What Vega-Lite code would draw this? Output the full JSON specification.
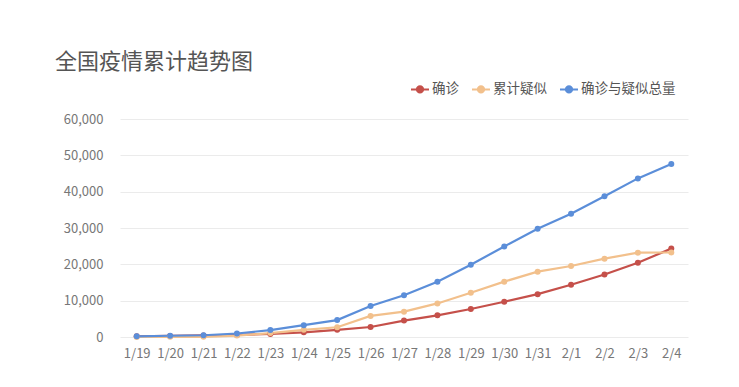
{
  "$schema": "https://vega.github.io/schema/vega-lite/v6.json",
  "width": 568,
  "height": 218,
  "autosize": {"type": "none"},
  "padding": {"left": 120, "top": 119, "right": 51, "bottom": 50},
  "background": "white",
  "title": {"text": "全国疫情累计趋势图", "anchor": "start", "frame": "group", "dx": -65, "dy": 54, "fontSize": 22, "font": "Noto Sans CJK SC", "color": "#555555", "fontWeight": "normal", "baseline": "alphabetic", "offset": 42},
  "config": {"view": {"stroke": null}, "font": "Noto Sans CJK SC"},
  "data": {"values": [
    {"d":"1/19","s":"确诊","v":198},{"d":"1/20","s":"确诊","v":291},{"d":"1/21","s":"确诊","v":440},{"d":"1/22","s":"确诊","v":571},{"d":"1/23","s":"确诊","v":830},{"d":"1/24","s":"确诊","v":1287},{"d":"1/25","s":"确诊","v":1975},{"d":"1/26","s":"确诊","v":2744},{"d":"1/27","s":"确诊","v":4515},{"d":"1/28","s":"确诊","v":5974},{"d":"1/29","s":"确诊","v":7711},{"d":"1/30","s":"确诊","v":9692},{"d":"1/31","s":"确诊","v":11791},{"d":"2/1","s":"确诊","v":14380},{"d":"2/2","s":"确诊","v":17205},{"d":"2/3","s":"确诊","v":20438},{"d":"2/4","s":"确诊","v":24324},
    {"d":"1/19","s":"累计疑似","v":0},{"d":"1/20","s":"累计疑似","v":54},{"d":"1/21","s":"累计疑似","v":37},{"d":"1/22","s":"累计疑似","v":393},{"d":"1/23","s":"累计疑似","v":1072},{"d":"1/24","s":"累计疑似","v":1965},{"d":"1/25","s":"累计疑似","v":2684},{"d":"1/26","s":"累计疑似","v":5794},{"d":"1/27","s":"累计疑似","v":6973},{"d":"1/28","s":"累计疑似","v":9239},{"d":"1/29","s":"累计疑似","v":12167},{"d":"1/30","s":"累计疑似","v":15238},{"d":"1/31","s":"累计疑似","v":17988},{"d":"2/1","s":"累计疑似","v":19544},{"d":"2/2","s":"累计疑似","v":21558},{"d":"2/3","s":"累计疑似","v":23214},{"d":"2/4","s":"累计疑似","v":23260},
    {"d":"1/19","s":"确诊与疑似总量","v":198},{"d":"1/20","s":"确诊与疑似总量","v":345},{"d":"1/21","s":"确诊与疑似总量","v":477},{"d":"1/22","s":"确诊与疑似总量","v":964},{"d":"1/23","s":"确诊与疑似总量","v":1902},{"d":"1/24","s":"确诊与疑似总量","v":3252},{"d":"1/25","s":"确诊与疑似总量","v":4659},{"d":"1/26","s":"确诊与疑似总量","v":8538},{"d":"1/27","s":"确诊与疑似总量","v":11488},{"d":"1/28","s":"确诊与疑似总量","v":15213},{"d":"1/29","s":"确诊与疑似总量","v":19878},{"d":"1/30","s":"确诊与疑似总量","v":24930},{"d":"1/31","s":"确诊与疑似总量","v":29779},{"d":"2/1","s":"确诊与疑似总量","v":33924},{"d":"2/2","s":"确诊与疑似总量","v":38763},{"d":"2/3","s":"确诊与疑似总量","v":43652},{"d":"2/4","s":"确诊与疑似总量","v":47584}
  ]},
  "mark": {"type": "line", "strokeWidth": 2.2, "point": {"filled": true, "size": 36}},
  "encoding": {
    "x": {"field": "d", "type": "ordinal", "sort": null, "scale": {"type": "point", "padding": 0.5},
      "axis": {"title": null, "labelAngle": 0, "domain": false, "ticks": false, "labelColor": "#777777", "labelFontSize": 13, "labelPadding": 10, "grid": false}},
    "y": {"field": "v", "type": "quantitative", "scale": {"domain": [0, 60000]},
      "axis": {"title": null, "values": [0,10000,20000,30000,40000,50000,60000], "format": ",.0f", "labelOverlap": false, "domain": false, "ticks": false, "labelColor": "#777777", "labelFontSize": 13, "labelPadding": 17, "gridColor": "#ebebeb"}},
    "color": {"field": "s", "type": "nominal", "sort": ["确诊", "累计疑似", "确诊与疑似总量"],
      "scale": {"domain": ["确诊", "累计疑似", "确诊与疑似总量"], "range": ["#c5504a", "#f2c08c", "#5b8ed9"]},
      "legend": {"title": null, "orient": "none", "legendX": 290, "legendY": -40, "direction": "horizontal", "symbolType": "M-1,0H1M0.35,0A0.35,0.35 0 1,1 -0.35,0A0.35,0.35 0 1,1 0.35,0", "symbolSize": 324, "symbolStrokeWidth": 2, "labelFontSize": 13.5, "labelColor": "#555555", "columnPadding": 9, "labelOffset": 2}}
  }
}
